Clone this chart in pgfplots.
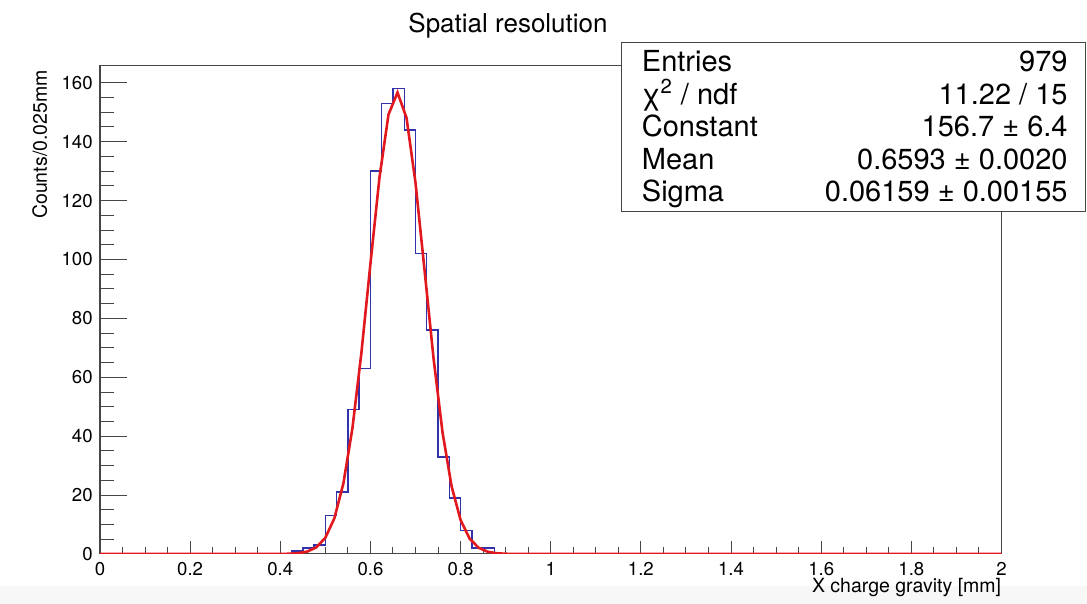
\documentclass[border=0pt]{standalone}
\usepackage{fontspec}
\setmainfont{TeX Gyre Heros}
\usepackage{pgfplots}
\pgfplotsset{compat=1.18}

\definecolor{histblue}{RGB}{50,50,170}
\definecolor{fitred}{RGB}{225,25,30}
\definecolor{framegray}{RGB}{70,70,70}

\pgfplotsset{
  rootframe/.style={
    at={(50pt,25pt)}, anchor=south west,
    scale only axis, width=450.75pt, height=244pt,
    xmin=0, xmax=2, ymin=0, ymax=165.7,
    axis line style={framegray, line width=0.5pt},
    tick align=inside,
    tick style={framegray, line width=0.5pt},
    /pgf/number format/assume math mode=true,
    /pgf/number format/fixed,
    tick label style={font=\fontsize{9.3}{11}\selectfont},
  },
}

\begin{document}
\begin{tikzpicture}[x=0.5pt,y=0.5pt]
% page = 1087 x 604 px, 1px = 0.5pt, origin bottom left
\useasboundingbox (0,0) rectangle (1087,604);
\fill[gray!6] (0,0) rectangle (1087,18);

% y ticks are longer than x ticks in ROOT: separate axis for them
\begin{axis}[
  rootframe,
  xtick=\empty,
  ytick={0,20,40,60,80,100,120,140,160},
  minor y tick num=3, ytick pos=left,
  major tick length=13.5pt, minor tick length=7pt,
  yticklabel style={inner sep=0pt, xshift=-3.5pt},
  ylabel={Counts/0.025mm},
  ylabel style={font=\fontsize{9.75}{11}\selectfont,
    at={(axis description cs:-0.0588,0.992)}, anchor=base east, inner sep=0pt},
]
\end{axis}

\begin{axis}[
  rootframe,
  ytick=\empty,
  xtick={0,0.2,0.4,0.6,0.8,1,1.2,1.4,1.6,1.8,2},
  minor x tick num=3, xtick pos=bottom,
  major tick length=6.5pt, minor tick length=3.25pt,
  xticklabel style={inner sep=0pt, yshift=-3.8pt},
  xlabel={X charge gravity [mm]},
  xlabel style={font=\fontsize{9.75}{11}\selectfont,
    at={(axis description cs:1,0)}, anchor=base east, inner sep=0pt, yshift=-19.5pt},
]
% histogram, 0.025 mm bins (bin left edges)
\addplot[const plot, histblue, line width=0.7pt] coordinates {
  (0,0) (0.425,1) (0.45,2) (0.475,3) (0.5,13) (0.525,21) (0.55,49)
  (0.575,63) (0.6,130) (0.625,153) (0.65,158) (0.675,144) (0.7,102)
  (0.725,76) (0.75,33) (0.775,19) (0.8,8) (0.825,2) (0.85,2)
  (0.875,0) (2,0)
};
% gaussian fit, drawn as in ROOT with 100 points over the range
\addplot[fitred, line width=1.3pt] coordinates {
  (0,0) (0.38,0.003) (0.40,0.022) (0.42,0.083) (0.44,0.277) (0.46,0.834)
  (0.48,2.26) (0.50,5.53) (0.52,12.14) (0.54,24.0) (0.56,42.7)
  (0.58,68.4) (0.60,98.6) (0.62,127.8) (0.64,149.2) (0.66,156.7)
  (0.68,148.1) (0.70,126.0) (0.72,96.4) (0.74,66.4) (0.76,41.2)
  (0.78,22.97) (0.80,11.53) (0.82,5.21) (0.84,2.12) (0.86,0.774)
  (0.88,0.255) (0.90,0.076) (0.92,0.02) (0.94,0.005) (2,0)
};
\end{axis}

% title
\node[anchor=base, inner sep=0pt, font=\fontsize{13}{15}\selectfont] at (508,571) {Spatial resolution};

% stats box
\filldraw[fill=white, draw=framegray, line width=0.5pt] (621,392.3) rectangle (1085,561);
\begin{scope}[every node/.style={inner sep=0pt, font=\fontsize{14.5}{16}\selectfont}]
\node[anchor=base west] at (641.5,532.3) {Entries};
\node[anchor=base east] at (1068,532.3) {979};
\node[anchor=base west] at (641.5,499.8) {χ\textsuperscript{2} / ndf};
\node[anchor=base east] at (1068,499.8) {11.22 / 15};
\node[anchor=base west] at (641.5,467.3) {Constant};
\node[anchor=base east] at (1068,467.3) {156.7 ± 6.4};
\node[anchor=base west] at (641.5,434.8) {Mean};
\node[anchor=base east] at (1068,434.8) {0.6593 ± 0.0020};
\node[anchor=base west] at (641.5,402.3) {Sigma};
\node[anchor=base east] at (1068,402.3) {0.06159 ± 0.00155};
\end{scope}
\end{tikzpicture}
\end{document}
